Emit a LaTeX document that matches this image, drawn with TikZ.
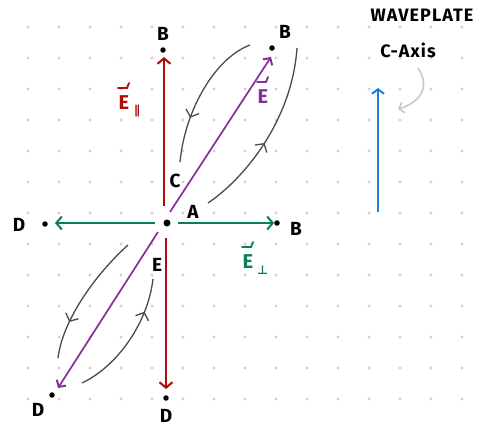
\documentclass[tikz,border=0pt]{standalone}
\usepackage{fontspec}
\setmainfont{Fira Sans}
\newfontfamily\symfont{DejaVu Sans}
\usetikzlibrary{arrows.meta,decorations.markings,calc}
\definecolor{cred}{HTML}{B00B0B}
\definecolor{cgreen}{HTML}{087F5B}
\definecolor{cpurple}{HTML}{862E9C}
\definecolor{cblue}{HTML}{1C7ED6}
\definecolor{cgray}{HTML}{4A4A4A}
\definecolor{clight}{HTML}{C8C8C8}
\definecolor{cdot}{HTML}{D0D0D0}
\tikzset{
  x=1pt,y=-1pt,
  barb/.tip={Straight Barb[length=5.5pt,width=13pt,line width=2pt]},
  pbarb/.tip={Straight Barb[length=5pt,width=11pt,line width=2pt]},
  pt/.style={circle,fill=black,inner sep=0pt,minimum size=5.5pt},
  lbl/.style={font=\fontsize{19}{19}\selectfont\bfseries,inner sep=0pt},
  vlbl/.style={font=\fontsize{20}{20}\selectfont\bfseries,inner sep=0pt},
  sublbl/.style={font=\fontsize{12}{12}\selectfont\symfont\bfseries,inner sep=0pt,anchor=west},
  vecarrow/.style={line width=2.2pt,-barb},
  swirl/.style={cgray,line width=1.3pt,postaction={decorate},
    decoration={markings,mark=at position #1 with {\arrow{Straight Barb[length=6pt,width=14pt,line width=1.3pt]}}}},
}
\newcommand{\hookvec}[2]{% position, colour
  \draw[#2,line width=1.8pt,line cap=round] ($#1+(-6,0)$) -- ($#1+(3,0)$) -- ($#1+(5,-5)$);}
\begin{document}
\begin{tikzpicture}
\useasboundingbox (0,0) rectangle (491,429);
\fill[white] (0,0) rectangle (491,429);
% dotted grid
\foreach \i in {0,...,14}{
  \foreach \j in {0,...,12}{
    \fill[cdot] (28+31*\i,27+31*\j) circle (1.6);
  }
}
% points
\node[pt,minimum size=7pt] (A) at (167,223) {};
\node[pt] (Bt) at (163,50) {};
\node[pt] (Db) at (166,398) {};
\node[pt] (Dl) at (45,224) {};
\node[pt] (Br) at (277,223) {};
\node[pt] (Bd) at (272,48) {};
\node[pt] (Dd) at (52,395) {};
% point labels
\node[lbl] (lBt) at (163,34) {B};
\node[lbl] (lDb) at (166,416) {D};
\node[lbl] (lDl) at (19,225) {D};
\node[lbl] (lBr) at (296,229) {B};
\node[lbl] (lBd) at (285,32) {B};
\node[lbl] (lDd) at (38,410) {D};
\node[lbl] (lA) at (193,212) {A};
\node[lbl] (lC) at (175,181) {C};
\node[lbl] (lE) at (157,265) {E};
% field vectors
\coordinate (ru0) at (164,206);
\coordinate (ru1) at (164,57);
\coordinate (rd0) at (166,238);
\coordinate (rd1) at (166,389);
\draw[cred,vecarrow] (ru0) -- (ru1);
\draw[cred,vecarrow] (rd0) -- (rd1);
\coordinate (gl0) at (155,223);
\coordinate (gl1) at (55,223);
\coordinate (gr0) at (178,223);
\coordinate (gr1) at (274,223);
\draw[cgreen,vecarrow] (gl0) -- (gl1);
\draw[cgreen,vecarrow] (gr0) -- (gr1);
\coordinate (pu0) at (170,212);
\coordinate (pu1) at (271,57);
\coordinate (pd0) at (158,232);
\coordinate (pd1) at (58,388);
\draw[cpurple,line width=1.7pt,-pbarb] (pu0) -- (pu1);
\draw[cpurple,line width=1.7pt,-pbarb] (pd0) -- (pd1);
% vector labels
\node[vlbl,cred] (lEpar) at (124,103) {E};
\node[sublbl,cred] (lEparsub) at (134,111) {∥};
\hookvec{(124,88)}{cred}
\node[vlbl,cpurple] (lEv) at (263,97) {E};
\hookvec{(263,82)}{cpurple}
\node[vlbl,cgreen] (lEperp) at (248,262) {E};
\node[sublbl,cgreen] (lEperpsub) at (257,270) {⊥};
\hookvec{(248,247)}{cgreen}
% swirl arrows
\coordinate (s1a) at (250,45);  \coordinate (s1b) at (180,162);
\coordinate (s2a) at (208,203); \coordinate (s2b) at (297,48);
\coordinate (s3a) at (128,245); \coordinate (s3b) at (58,358);
\coordinate (s4a) at (82,383);  \coordinate (s4b) at (153,279);
\draw[swirl=0.68] (s1a) .. controls (215,58) and (185,110) .. (s1b);
\draw[swirl=0.45] (s2a) .. controls (245,178) and (292,120) .. (s2b);
\draw[swirl=0.72] (s3a) .. controls (98,272) and (63,318) .. (s3b);
\draw[swirl=0.74] (s4a) .. controls (118,366) and (148,322) .. (s4b);
% waveplate
\node[font=\fontsize{18}{18}\selectfont\bfseries\addfontfeature{LetterSpace=6},inner sep=0pt] (wp) at (422,15) {WAVEPLATE};
\node[font=\fontsize{18}{18}\selectfont\bfseries\addfontfeature{LetterSpace=6},inner sep=0pt] (ca) at (408,50) {C-Axis};
\coordinate (ax0) at (378,212);
\coordinate (ax1) at (378,88);
\draw[cblue,line width=2.2pt,-{Straight Barb[length=4.5pt,width=12pt,line width=2pt]}] (ax0) -- (ax1);
\coordinate (g0) at (418,68);
\coordinate (g1) at (398,109);
\draw[clight,line width=1.6pt,-{Straight Barb[length=4.5pt,width=11pt,line width=1.6pt]}] (g0) .. controls (430,85) and (422,102) .. (g1);
\end{tikzpicture}
\end{document}
